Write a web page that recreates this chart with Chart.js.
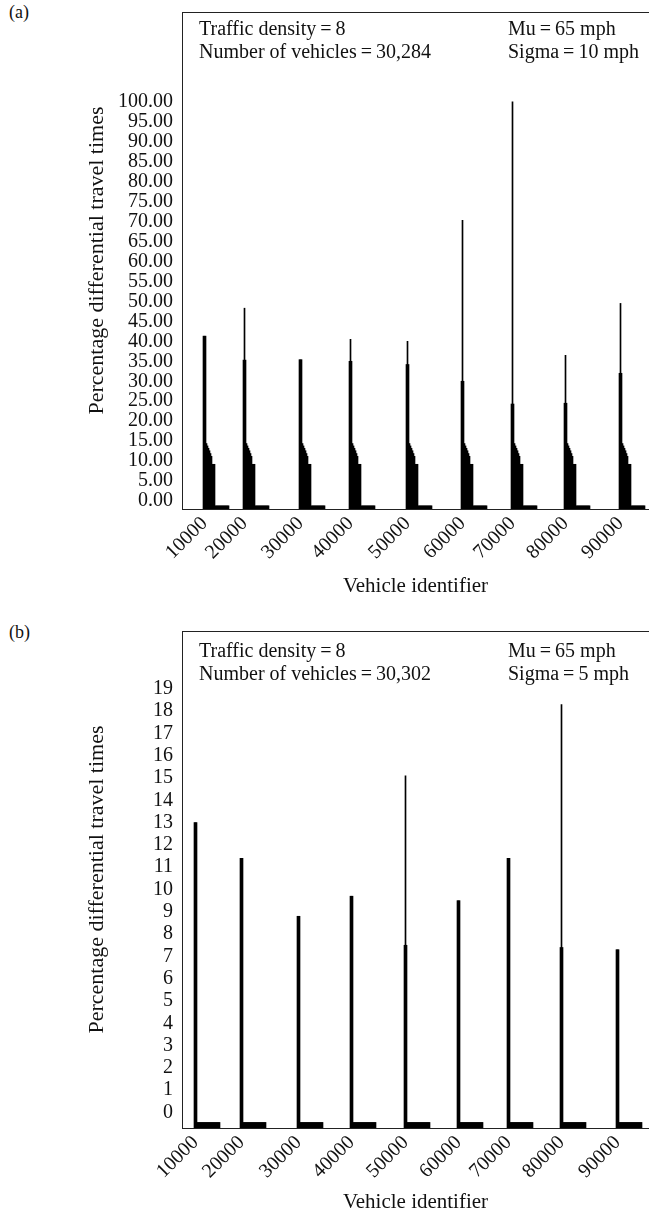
<!DOCTYPE html>
<html>
<head>
<meta charset="utf-8">
<title>Percentage differential travel times</title>
<script src="https://cdn.jsdelivr.net/npm/chart.js@4.4.1/dist/chart.umd.min.js"></script>
<style>
  html, body { margin: 0; padding: 0; background: #fff; }
  body { width: 649px; height: 1217px; position: relative; overflow: hidden;
         font-family: 'Liberation Serif', 'Times New Roman', serif; color: #111; }
  .panel { position: absolute; left: 0; width: 649px; }
  #panelA { top: 0; height: 610px; }
  #panelB { top: 619px; height: 598px; }
  .tag { position: absolute; left: 9px; font-size: 18px; line-height: 1; }
</style>
</head>
<body>
<div class="tag" style="top: 3px;">(a)</div>
<div class="tag" style="top: 623px;">(b)</div>
<div class="panel" id="panelA"><canvas id="chartA"></canvas></div>
<div class="panel" id="panelB"><canvas id="chartB"></canvas></div>

<script>
// ---------- data ----------
const vehicleIds = ['10000', '20000', '30000', '40000', '50000', '60000', '70000', '80000', '90000'];

// (a) Sigma = 10 mph
const yTicksA = [0, 5, 10, 15, 20, 25, 30, 35, 40, 45, 50, 55, 60, 65, 70, 75, 80, 85, 90, 95, 100];
const startA = [21, 61, 117, 167, 224, 279, 329, 382, 437];          // first column of each run
const bodyA = [41.3, 35.3, 35.4, 35.0, 34.2, 30.0, 24.3, 24.5, 32.0]; // thick spike
const peakA = [41.3, 48.3, 35.4, 40.5, 40.0, 70.3, 100.0, 36.5, 49.5]; // single tallest vehicle
const shapeA = [14.4, 13.8, 13.2, 12.6, 11.9, 11.2, 9.2, 9.2, 9.2,
                -1.2, -1.2, -1.2, -1.2, -1.2, -1.2, -1.2, -1.2, -1.2, -1.2, -1.2, -1.2, -1.2, -1.2];

// (b) Sigma = 5 mph
const yTicksB = [0, 1, 2, 3, 4, 5, 6, 7, 8, 9, 10, 11, 12, 13, 14, 15, 16, 17, 18, 19];
const startB = [12, 58, 115, 168, 222, 275, 325, 378, 434];
const bodyB = [13.0, 11.4, 8.8, 9.7, 7.5, 9.5, 11.4, 7.4, 7.3];
const peakB = [13.0, 11.4, 8.8, 9.7, 15.1, 9.5, 11.4, 18.3, 7.3];
const shapeB = [-0.45, -0.45, -0.45, -0.45, -0.45, -0.45, -0.45, -0.45, -0.45, -0.45, -0.45, -0.45,
                -0.45, -0.45, -0.45, -0.45, -0.45, -0.45, -0.45, -0.45, -0.45, -0.45, -0.45];

// ---------- helpers ----------
const SERIF = "'Liberation Serif', 'Times New Roman', serif";
const INK = '#111';

// one bar per column: spike (body, peak, body) followed by the run's tail
function runPoints(starts, body, peak, shape) {
    const pts = [];
    starts.forEach((s, i) => {
        [body[i], peak[i], body[i]].concat(shape).forEach((v, k) => {
            pts.push({ x: s + k, y: v });
        });
    });
    return pts;
}

// text block in the upper part of the plot
const notesPlugin = {
    id: 'notes',
    afterDraw(chart, args, opts) {
        const { ctx, chartArea } = chart;
        ctx.save();
        ctx.fillStyle = INK;
        ctx.font = '20px ' + SERIF;
        ctx.textBaseline = 'middle';
        opts.lines.forEach(l => {
            ctx.fillText(l.text, chartArea.left + l.dx, chartArea.top + l.dy);
        });
        ctx.restore();
    }
};

function makeChart(canvasId, cfg) {
    const ctx = document.getElementById(canvasId).getContext('2d');
    return new Chart(ctx, {
        type: 'bar',
        data: {
            datasets: [{
                data: runPoints(cfg.starts, cfg.body, cfg.peak, cfg.shape),
                backgroundColor: '#000',
                borderWidth: 0,
                base: cfg.yMin,
                grouped: false,
                categoryPercentage: 1,
                barPercentage: 1
            }]
        },
        options: {
            responsive: true,
            maintainAspectRatio: false,
            animation: false,
            layout: { padding: { top: 12, left: 0, right: 0, bottom: 0 } },
            plugins: {
                legend: { display: false },
                tooltip: { enabled: false },
                notes: { lines: cfg.notes }
            },
            scales: {
                x: {
                    type: 'linear',
                    min: -0.5,
                    max: 466.5,
                    offset: false,
                    afterBuildTicks: s => { s.ticks = cfg.starts.map(v => ({ value: v + 1 })); },
                    afterFit: s => { s.height = cfg.xAxisHeight; },
                    grid: { display: false, drawTicks: false },
                    border: { display: true, color: '#222', width: 1 },
                    ticks: {
                        autoSkip: false,
                        minRotation: 45,
                        maxRotation: 45,
                        padding: 3,
                        color: INK,
                        font: { family: SERIF, size: 20 },
                        callback: (v, i) => vehicleIds[i]
                    },
                    title: {
                        display: true,
                        text: 'Vehicle identifier',
                        color: INK,
                        font: { family: SERIF, size: 21 },
                        padding: { top: 0, bottom: cfg.xTitlePad }
                    }
                },
                top: {
                    type: 'linear',
                    position: 'top',
                    min: -0.5,
                    max: 466.5,
                    afterFit: s => { s.height = 0; },
                    grid: { display: false, drawTicks: false },
                    ticks: { display: false },
                    border: { display: true, color: '#222', width: 1 }
                },
                y: {
                    min: cfg.yMin,
                    max: cfg.yMax,
                    afterBuildTicks: s => { s.ticks = cfg.yTicks.map(v => ({ value: v })); },
                    // fixed axis width; tick labels never reach the plot edges
                    afterFit: s => { s.width = 182; s.paddingTop = 0; s.paddingBottom = 0; },
                    grid: { display: false, drawTicks: false },
                    border: { display: true, color: '#222', width: 1 },
                    ticks: {
                        autoSkip: false,
                        padding: 9,
                        color: INK,
                        font: { family: SERIF, size: 20 },
                        callback: v => v.toFixed(cfg.decimals)
                    },
                    title: {
                        display: true,
                        text: 'Percentage differential travel times',
                        color: INK,
                        font: { family: SERIF, size: 22 },
                        padding: { top: 84, bottom: 0 }
                    }
                }
            }
        },
        plugins: [notesPlugin]
    });
}

// ---------- charts ----------
makeChart('chartA', {
    starts: startA, body: bodyA, peak: peakA, shape: shapeA,
    yMin: -2, yMax: 122.5, yTicks: yTicksA, decimals: 2,
    xAxisHeight: 101, xTitlePad: 11,
    notes: [
        { text: 'Traffic density\u2009=\u20098', dx: 17, dy: 18 },
        { text: 'Number of vehicles\u2009=\u200930,284', dx: 17, dy: 41 },
        { text: 'Mu\u2009=\u200965 mph', dx: 326, dy: 18 },
        { text: 'Sigma\u2009=\u200910 mph', dx: 326, dy: 41 }
    ]
});

makeChart('chartB', {
    starts: startB, body: bodyB, peak: peakB, shape: shapeB,
    yMin: -0.7, yMax: 21.6, yTicks: yTicksB, decimals: 0,
    xAxisHeight: 89, xTitlePad: 2,
    notes: [
        { text: 'Traffic density\u2009=\u20098', dx: 17, dy: 21 },
        { text: 'Number of vehicles\u2009=\u200930,302', dx: 17, dy: 44 },
        { text: 'Mu\u2009=\u200965 mph', dx: 326, dy: 21 },
        { text: 'Sigma\u2009=\u20095 mph', dx: 326, dy: 44 }
    ]
});
</script>
</body>
</html>
